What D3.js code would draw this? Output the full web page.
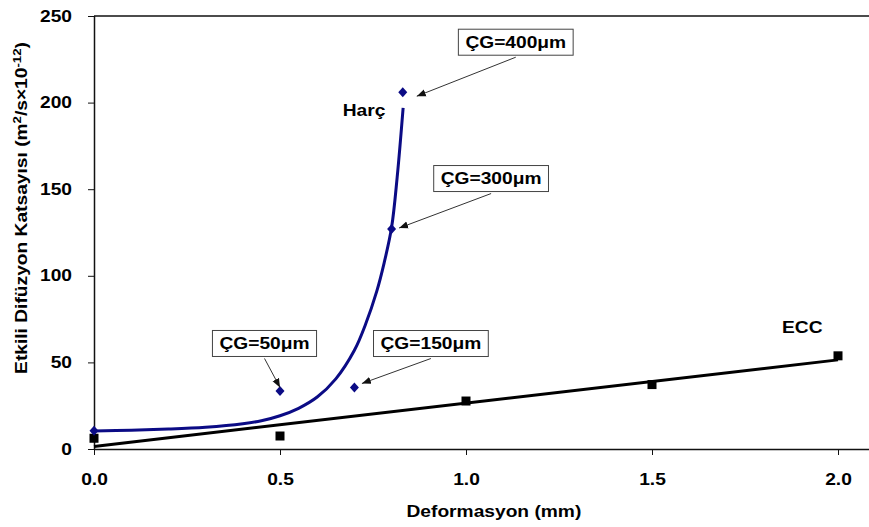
<!DOCTYPE html>
<html>
<head>
<meta charset="utf-8">
<script src="https://cdn.jsdelivr.net/npm/d3@7"></script>
<style>
  html, body { margin: 0; padding: 0; background: #fff; }
  svg { display: block; }
  text { font-family: "Liberation Sans", Arial, sans-serif; font-weight: bold; fill: #000; }
</style>
</head>
<body>
<svg id="chart" width="869" height="527"></svg>
<script>
// Harç (mortar) measurements: deformation (mm) vs. effective diffusion coefficient
const harcX = [0, 0.5, 0.7, 0.8, 0.83];
const harcY = [10.5, 33.5, 35.5, 127, 206];
const harcLabels = [null, "ÇG=50μm", "ÇG=150μm", "ÇG=300μm", "ÇG=400μm"];

// Fitted trend curve for Harç
const harcFitX = [0, 0.1, 0.2, 0.3, 0.4, 0.45, 0.5, 0.55, 0.6, 0.65, 0.7, 0.73, 0.76, 0.78, 0.8, 0.815, 0.831];
const harcFitY = [10.4, 10.8, 11.5, 12.6, 14.6, 16.3, 19.2, 23.5, 30, 40.5, 57, 72, 91, 107.5, 128, 157, 197];

// ECC measurements
const eccX = [0, 0.5, 1.0, 1.5, 2.0];
const eccY = [6.2, 7.5, 27.7, 37.2, 53.8];

const xTicks = [0, 0.5, 1.0, 1.5, 2.0];
const yTicks = [0, 50, 100, 150, 200, 250];

const seriesNames = { harc: "Harç", ecc: "ECC" };
const xTitle = "Deformasyon (mm)";

// callout placement (pixels, relative to the marked point)
const calloutLayout = [
  null,
  { dx: -15.5, dy: -47.5, tipDx: 0, tipDy: -3.5 },
  { dx: 76.5, dy: -44, tipDx: 7.5, tipDy: -4 },
  { dx: 99.5, dy: -50.5, tipDx: 7.5, tipDy: -1 },
  { dx: 113, dy: -50, tipDx: 14, tipDy: 4 }
];

const STRETCH = 1.2;
const W = 869, H = 527;
const plotLeft = 94, plotTop = 16, plotBottom = 449;

const svg = d3.select("#chart");

const x = d3.scaleLinear().domain([0, 2.15]).range([plotLeft, plotLeft + 2.15 * 372]);
const y = d3.scaleLinear().domain([0, 250]).range([plotBottom, plotTop]);

const harc = harcX.map((v, i) => ({ x: v, y: harcY[i], label: harcLabels[i], layout: calloutLayout[i] }));
const ecc = eccX.map((v, i) => ({ x: v, y: eccY[i] }));
const harcFit = harcFitX.map((v, i) => ({ x: v, y: harcFitY[i] }));

// least-squares line through the ECC points
const mx = d3.mean(ecc, d => d.x), my = d3.mean(ecc, d => d.y);
const slope = d3.sum(ecc, d => (d.x - mx) * (d.y - my)) / d3.sum(ecc, d => (d.x - mx) ** 2);
const intercept = my - slope * mx;
const eccFit = [0, 2.0].map(v => ({ x: v, y: intercept + slope * v }));

// frame: top border
svg.append("line")
  .attr("x1", plotLeft).attr("x2", W).attr("y1", plotTop).attr("y2", plotTop)
  .attr("stroke", "#111").attr("stroke-width", 1.5);

// axes
const xAxis = svg.append("g")
  .attr("transform", `translate(0,${plotBottom})`)
  .call(d3.axisBottom(x).tickValues(xTicks).tickFormat(d3.format(".1f")).tickSize(6).tickSizeOuter(0));
xAxis.select(".domain").attr("d", `M${plotLeft},0.5H${W}`).attr("stroke", "#111").attr("stroke-width", 1.5);
xAxis.selectAll(".tick line").attr("stroke", "#111");
xAxis.selectAll(".tick text")
  .attr("y", 36).attr("dy", 0)
  .attr("transform", `scale(${STRETCH},1)`);

const yAxis = svg.append("g")
  .attr("transform", `translate(${plotLeft},0)`)
  .call(d3.axisLeft(y).tickValues(yTicks).tickSize(6).tickSizeOuter(0));
yAxis.select(".domain").attr("d", `M0.5,${plotTop}V${plotBottom}`).attr("stroke", "#111").attr("stroke-width", 1.5);
yAxis.selectAll(".tick line").attr("stroke", "#111");
yAxis.selectAll(".tick text")
  .attr("x", -22 / STRETCH)
  .attr("transform", `scale(${STRETCH},1)`);

svg.selectAll("g[font-family]").attr("font-family", null).attr("font-size", null);
svg.selectAll(".tick text").style("font-size", "16px");

// axis titles
svg.append("g").attr("transform", `translate(${(plotLeft + x.range()[1]) / 2},517)`)
  .append("text").attr("text-anchor", "middle")
  .attr("transform", `scale(${STRETCH},1)`)
  .style("font-size", "16px").text(xTitle);

const yt = svg.append("g").attr("transform", "translate(27,208) rotate(-90)")
  .append("text").attr("text-anchor", "middle")
  .attr("transform", `scale(${STRETCH},1)`)
  .style("font-size", "16px");
yt.append("tspan").text("Etkili Difüzyon Katsayısı (m");
yt.append("tspan").attr("dy", -6).style("font-size", "11px").text("2");
yt.append("tspan").attr("dy", 6).text("/s×10");
yt.append("tspan").attr("dy", -6).style("font-size", "11px").text("-12");
yt.append("tspan").attr("dy", 6).text(")");

// lines
const line = d3.line().x(d => x(d.x)).y(d => y(d.y));

svg.append("path").datum(eccFit)
  .attr("d", line)
  .attr("fill", "none").attr("stroke", "#000").attr("stroke-width", 3);

svg.append("path").datum(harcFit)
  .attr("d", line.curve(d3.curveCatmullRom.alpha(0.5)))
  .attr("fill", "none").attr("stroke", "#0B0B85").attr("stroke-width", 3);

// markers
svg.selectAll(".ecc-pt").data(ecc).join("rect")
  .attr("class", "ecc-pt")
  .attr("x", d => x(d.x) - 4.5).attr("y", d => y(d.y) - 4.5)
  .attr("width", 9).attr("height", 9).attr("fill", "#000");

svg.selectAll(".harc-pt").data(harc).join("path")
  .attr("class", "harc-pt")
  .attr("transform", d => `translate(${x(d.x)},${y(d.y)})`)
  .attr("d", "M0,-5L4.5,0L0,5L-4.5,0Z")
  .attr("fill", "#0B0B85");

// series names
const lastHarc = harc[harc.length - 1];
svg.append("g").attr("transform", `translate(${x(lastHarc.x) - 60},${y(lastHarc.y) + 24})`)
  .append("text").attr("transform", `scale(${STRETCH},1)`)
  .style("font-size", "16px").text(seriesNames.harc);
const lastEcc = ecc[ecc.length - 1];
svg.append("g").attr("transform", `translate(${x(lastEcc.x) - 56},${y(lastEcc.y) - 23})`)
  .append("text").attr("transform", `scale(${STRETCH},1)`)
  .style("font-size", "16px").text(seriesNames.ecc);

// callouts
svg.append("defs").append("marker")
  .attr("id", "arrow").attr("viewBox", "0 0 10 10")
  .attr("refX", 10).attr("refY", 5)
  .attr("markerWidth", 9).attr("markerHeight", 9)
  .attr("markerUnits", "userSpaceOnUse")
  .attr("orient", "auto")
  .append("path").attr("d", "M0,1L10,5L0,9Z").attr("fill", "#111");

harc.filter(d => d.label).forEach(d => {
  const px = x(d.x), py = y(d.y);
  const cx = px + d.layout.dx, cy = py + d.layout.dy;
  const g = svg.append("g").attr("transform", `translate(${cx},${cy})`);
  const rect = g.append("rect");
  const t = g.append("text")
    .attr("text-anchor", "middle").attr("dy", "0.36em")
    .attr("transform", `scale(${STRETCH},1)`)
    .style("font-size", "16px").text(d.label);
  const bb = t.node().getBBox();
  const w = bb.width * STRETCH + 14, h = 26;
  rect.attr("x", -w / 2).attr("y", -h / 2).attr("width", w).attr("height", h)
    .attr("fill", "#fff").attr("stroke", "#444").attr("stroke-width", 1);
  svg.append("line")
    .attr("x1", cx).attr("y1", cy + h / 2 + 2)
    .attr("x2", px + d.layout.tipDx).attr("y2", py + d.layout.tipDy)
    .attr("stroke", "#333").attr("stroke-width", 1)
    .attr("marker-end", "url(#arrow)");
});
</script>
</body>
</html>
